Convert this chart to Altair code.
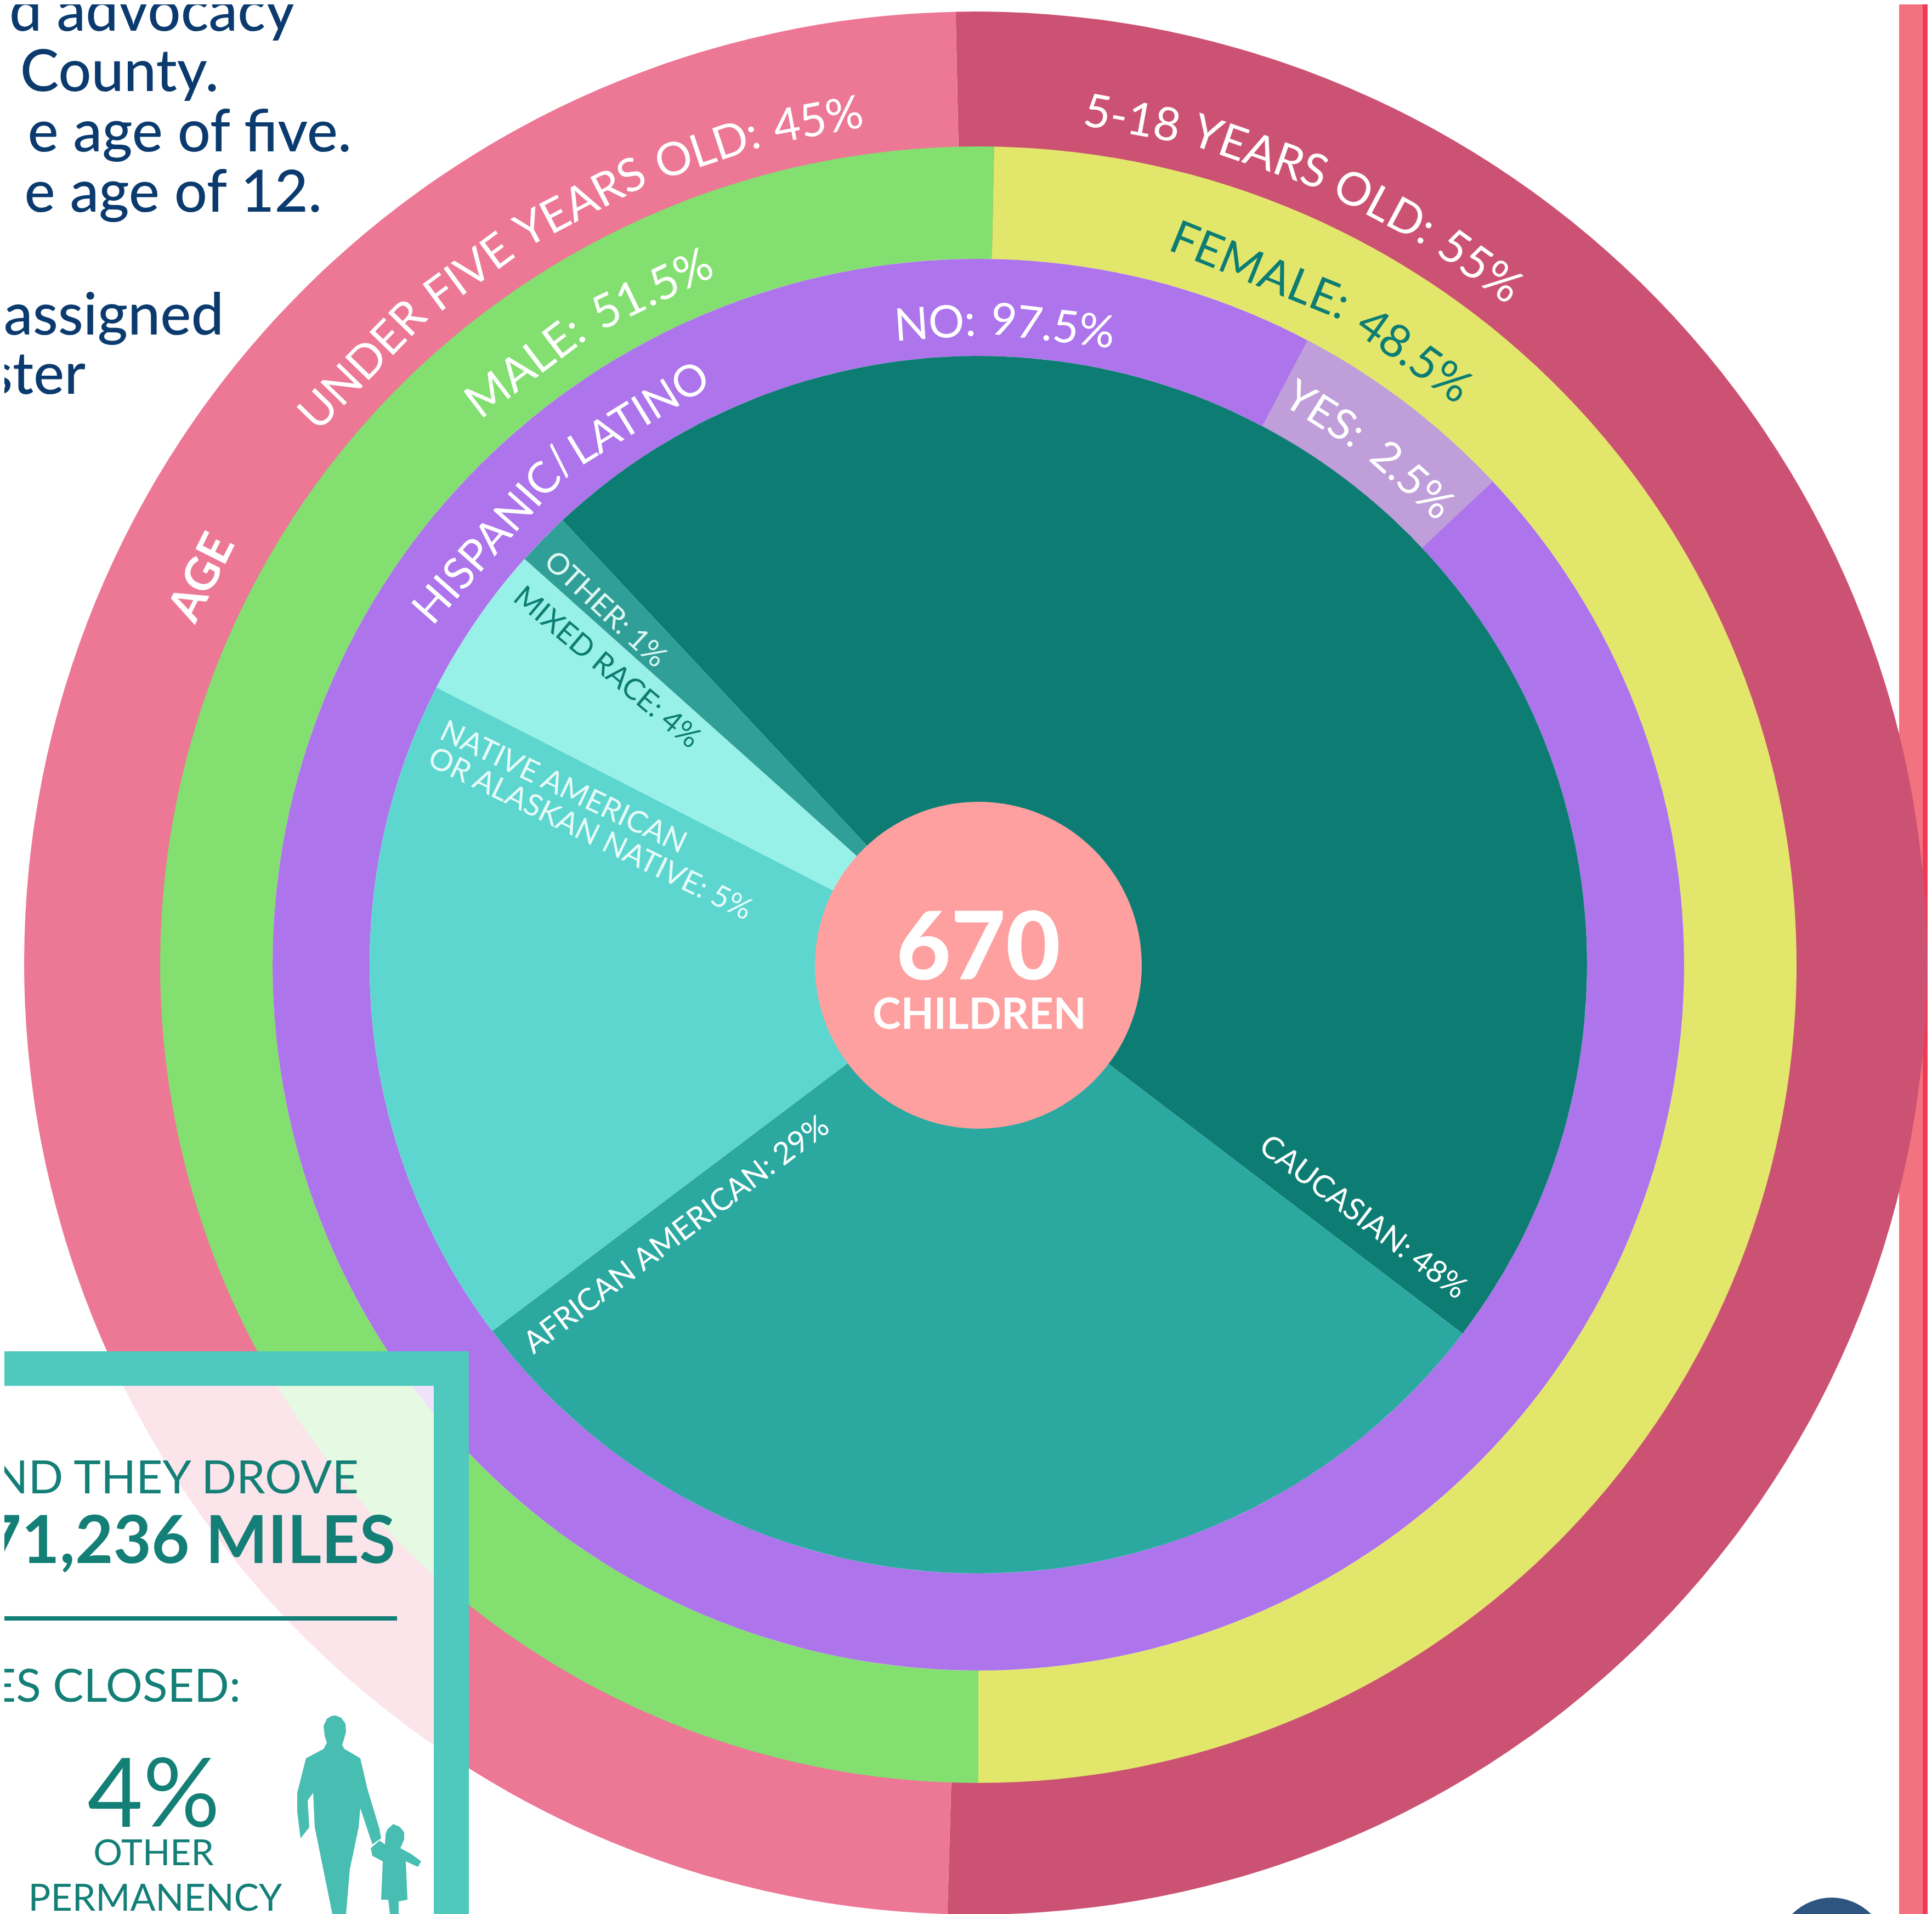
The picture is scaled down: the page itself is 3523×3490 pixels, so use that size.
import altair as alt
import pandas as pd

W, H = 3523, 3490
CW = W - 16          # the page never draws the chart wider than this
CX, CY = 1784, 1759
FONT = "Lato"

# rings: label, start deg, end deg, inner r, outer r, colour, centre
ring_names = ["dark_age", "pink_age", "yellow", "green", "purple", "yes",
              "caucasian", "african", "native", "mixed", "other"]
ring_t0 = [-1.2, 181.7, 1.1, 180.0, 0.0, 27.8, -43.1, 127.3, 233.0, 297.1, 311.8]
ring_t1 = [181.7, 358.8, 180.0, 361.1, 360.0, 46.8, 127.3, 233.0, 297.1, 311.8, 316.9]
ring_r0 = [1300, 1300, 1287, 1287, 1110, 1110, 0, 0, 0, 0, 0]
ring_r1 = [1735, 1735, 1492, 1492, 1287, 1287, 1110, 1110, 1110, 1110, 1110]
ring_cx = [1779, 1779, CX, CX, CX, CX, CX, CX, CX, CX, CX]
ring_cy = [1756, 1756, CY, CY, CY, CY, CY, CY, CY, CY, CY]
ring_col = ["#CC5273", "#EC7896", "#E2E76C", "#83DF70", "#AD74EC", "#BF9ED9",
            "#0D7D74", "#2BA9A1", "#5CD6CF", "#98F1E8", "#2F9F97"]

# curved labels: words, start deg, end deg, mid radius, size, colour, weight
curved_words = [["UNDER", "FIVE", "YEARS", "OLD:", "45%"],
                ["5-18", "YEARS", "OLD:", "55%"],
                ["MALE:", "51.5%"],
                ["FEMALE:", "48.5%"],
                ["HISPANIC/", "LATINO"],
                ["NO:", "97.5%"],
                ["YES:", "2.5%"],
                ["AGE"]]
curved_t0 = [308.9, 7.0, 317.6, 14.8, 301.8, 352.5, 28.2, 291.0]
curved_t1 = [352.4, 38.8, 339.4, 40.8, 335.5, 372.4, 46.4, 302.0]
curved_r = [1565, 1565, 1365, 1363, 1178, 1170, 1183, 1580]
curved_size = [84, 84, 84, 84, 80, 82, 78, 84]
curved_col = ["#FFFFFF", "#FFFFFF", "#FFFFFF", "#0D7D74", "#FFFFFF", "#FFFFFF", "#FFFFFF", "#FFFFFF"]
curved_w = ["normal", "normal", "normal", "normal", "normal", "normal", "normal", "bold"]

# straight labels
s_text = ["OTHER: 1%", "MIXED RACE: 4%", "NATIVE AMERICAN", "OR ALASKAN NATIVE: 5%",
          "AFRICAN AMERICAN: 29%", "CAUCASIAN: 48%"]
s_x = [1103, 1106, 1027, 1076, 1234, 2485]
s_y = [1112, 1218, 1436, 1521, 2252, 2220]
s_a = [43, 40, 25.5, 26, 323, 37]
s_size = [54, 54, 55, 55, 56, 56]
s_col = ["#DDF7F2", "#0D7D74", "#E8FBF8", "#E8FBF8", "#FFFFFF", "#FFFFFF"]

# navy copy, right aligned at x, on baseline y
n_text = ["d advocacy", "County.", "e age of five.", "e age of 12.", "assigned", "ster"]
n_x = [539, 399, 641, 587, 408, 156]
n_y = [56, 166, 276, 386, 610, 718]

# box copy
b_text = ["ND THEY DROVE", "71,236 MILES", "ES CLOSED:"]
b_x = [654, 721, 439]
b_y = [2723, 2850, 3103]
b_size = [84, 120, 84]
b_w = ["normal", "bold", "normal"]
c_text = ["4%", "OTHER", "PERMANENCY"]
c_x = [280, 280, 283]
c_y = [3331, 3401, 3484]
c_size = [175, 66, 68]

# silhouette outline, full-size pixels
man_x = [612, 622, 630, 631, 627, 624, 628, 657, 670, 692, 695, 679, 657, 654, 638, 631, 606, 574, 571, 561, 564, 548, 542, 542, 558, 590, 596, 592, 590, 596, 604]
man_y = [3128, 3132, 3143, 3158, 3172, 3182, 3189, 3206, 3262, 3335, 3352, 3363, 3297, 3332, 3408, 3490, 3490, 3332, 3269, 3283, 3332, 3352, 3304, 3269, 3206, 3189, 3178, 3165, 3147, 3134, 3129]
kid_x = [717, 729, 737, 737, 730, 749, 768, 762, 740, 743, 727, 727, 711, 708, 695, 698, 679, 676, 692, 702, 703, 706]
kid_y = [3326, 3331, 3341, 3354, 3370, 3380, 3394, 3404, 3394, 3464, 3467, 3490, 3490, 3464, 3464, 3394, 3384, 3370, 3356, 3363, 3345, 3336]

# rough relative glyph widths used to lay curved words along their arcs
CHAR_W = {"I": 0.28, ":": 0.26, ".": 0.26, "/": 0.40, "-": 0.38, "1": 0.58, "%": 0.82, "M": 0.90,
          "O": 0.80, "E": 0.56, "F": 0.55, "L": 0.50, "S": 0.54, "A": 0.68, "N": 0.75, "D": 0.77,
          "R": 0.62, "U": 0.73, "V": 0.67, "Y": 0.62, "T": 0.58, "H": 0.74, "C": 0.66, "P": 0.58, "G": 0.72}

xs = alt.Scale(domain=[8, 8 + CW], range=[0, CW], nice=False, zero=False)
ys = alt.Scale(domain=[8, H], range=[0, H - 8], nice=False, zero=False)
ts = alt.Scale(type="linear", domain=[0, 360], range=[0, 6.283185307179586], zero=False, nice=False)
rs = alt.Scale(type="linear", domain=[0, 2000], range=[0, 2000], zero=False, nice=False)
ang = alt.Scale(type="linear", domain=[0, 360], range=[0, 360], zero=False, nice=False)


def X(f="x"):
    return alt.X(f"{f}:Q", scale=xs, axis=None)


def Y(f="y"):
    return alt.Y(f"{f}:Q", scale=ys, axis=None)


def rect(x0, x1, y0, y1, col, op=1.0):
    d = pd.DataFrame({"x": [x0], "x2": [x1], "y": [y0], "y2": [y1]})
    return alt.Chart(d).mark_rect(color=col, opacity=op, clip=True, strokeWidth=0).encode(
        x=X(), x2="x2:Q", y=Y(), y2="y2:Q")


def arcs(df):
    return alt.Chart(df).mark_arc(clip=True, strokeWidth=0).encode(
        x=X(), y=Y(),
        theta=alt.Theta("t0:Q", scale=ts, stack=None),
        theta2="t1:Q",
        radius=alt.Radius("r1:Q", scale=rs),
        radius2="r0:Q",
        color=alt.Color("col:N", scale=None),
    )


ring_df = pd.DataFrame({"name": ring_names, "t0": ring_t0, "t1": ring_t1, "r0": ring_r0,
                        "r1": ring_r1, "col": ring_col, "x": ring_cx, "y": ring_cy})
hub_df = pd.DataFrame({"t0": [0], "t1": [360], "r0": [0], "r1": [298], "col": ["#FFA0A0"], "x": [CX], "y": [1760]})
dot_df = pd.DataFrame({"t0": [0], "t1": [360], "r0": [0], "r1": [101], "col": ["#2E5480"], "x": [3340], "y": [3561]})


def wlen(s):
    return sum(CHAR_W.get(c, 0.60) for c in s)


# curved labels are set word by word along their arc
rows = []
for words, t0, t1, r, size, col, w in zip(curved_words, curved_t0, curved_t1, curved_r,
                                          curved_size, curved_col, curved_w):
    gaps = [0.0 if a.endswith("/") else 0.28 for a in words[:-1]]
    lens = [wlen(a) for a in words]
    total = sum(lens) + sum(gaps)
    pos = 0.0
    for i, (a, n) in enumerate(zip(words, lens)):
        th = t0 + (t1 - t0) * (pos + n / 2) / total
        rows.append({"text": a, "t": th % 360, "a": th % 360, "r": r, "size": size, "col": col,
                     "w": w, "x": CX, "y": CY})
        pos += n + (gaps[i] if i < len(gaps) else 0)
cur_df = pd.DataFrame(rows)


def curved(weight):
    return alt.Chart(cur_df[cur_df.w == weight]).mark_text(
        font=FONT, baseline="middle", align="center", fontWeight=weight, clip=True).encode(
        x=X(), y=Y(),
        theta=alt.Theta("t:Q", scale=ts, stack=None),
        radius=alt.Radius("r:Q", scale=rs),
        angle=alt.Angle("a:Q", scale=ang),
        text="text:N",
        size=alt.Size("size:Q", scale=None),
        color=alt.Color("col:N", scale=None),
    )


str_df = pd.DataFrame({"text": s_text, "x": s_x, "y": s_y, "a": s_a, "size": s_size, "col": s_col})
straight = alt.Chart(str_df).mark_text(font=FONT, baseline="middle", align="center", clip=True).encode(
    x=X(), y=Y(), angle=alt.Angle("a:Q", scale=ang), text="text:N",
    size=alt.Size("size:Q", scale=None), color=alt.Color("col:N", scale=None))

navy_df = pd.DataFrame({"text": n_text, "x": n_x, "y": n_y})
navy = alt.Chart(navy_df).mark_text(font=FONT, fontSize=106, fontWeight=500, baseline="alphabetic",
                                    align="right", color="#0B3B6E", clip=True).encode(
    x=X(), y=Y(), text="text:N")

box_df = pd.DataFrame({"text": b_text, "x": b_x, "y": b_y, "size": b_size, "w": b_w})
box_layers = [
    alt.Chart(box_df[box_df.w == wt]).mark_text(font=FONT, fontWeight=wt, baseline="alphabetic", align="right",
                                                color="#137F76", clip=True).encode(
        x=X(), y=Y(), text="text:N", size=alt.Size("size:Q", scale=None))
    for wt in ["normal", "bold"]
]
ctr_df = pd.DataFrame({"text": c_text, "x": c_x, "y": c_y, "size": c_size})
ctr = alt.Chart(ctr_df).mark_text(font=FONT, baseline="alphabetic", align="center",
                                  color="#137F76", clip=True).encode(
    x=X(), y=Y(), text="text:N", size=alt.Size("size:Q", scale=None))

hub_text_df = pd.DataFrame({"text": ["670"], "x": [1784], "y": [1786], "size": [172]})
hub_text = alt.Chart(hub_text_df).mark_text(font=FONT, fontWeight=900, baseline="alphabetic", align="center",
                                            color="#FFFFFF").encode(
    x=X(), y=Y(), text="text:N", size=alt.Size("size:Q", scale=None))
hub_text2_df = pd.DataFrame({"text": ["CHILDREN"], "x": [1786], "y": [1876], "size": [78]})
hub_text2 = alt.Chart(hub_text2_df).mark_text(font=FONT, fontWeight="bold", baseline="alphabetic", align="center",
                                              color="#FFFFFF").encode(
    x=X(), y=Y(), text="text:N", size=alt.Size("size:Q", scale=None))

rule_df = pd.DataFrame({"x": [8], "x2": [724], "y": [2951]})
rule = alt.Chart(rule_df).mark_rule(color="#137F76", strokeWidth=8, clip=True).encode(x=X(), x2="x2:Q", y=Y())

# silhouette as one custom symbol
AX, AY, HALF = 650, 3300, 400


def sub(px, py):
    pts = [f"{(a - AX) / HALF:.4f},{(b - AY) / HALF:.4f}" for a, b in zip(px, py)]
    return "M" + "L".join(pts) + "Z"


sil_df = pd.DataFrame({"x": [AX], "y": [AY]})
sil = alt.Chart(sil_df).mark_point(filled=True, shape=sub(man_x, man_y) + sub(kid_x, kid_y),
                                   size=(2 * HALF) ** 2, color="#48BDB2", opacity=1, strokeWidth=0,
                                   clip=True).encode(x=X(), y=Y())

chart = alt.layer(
    rect(3463, 3506, 0, H, "#F2737F"),
    rect(3506, 8 + CW, 0, H, "#EF3A57"),
    arcs(ring_df),
    arcs(hub_df),
    arcs(dot_df),
    curved("normal"),
    curved("bold"),
    straight,
    hub_text,
    hub_text2,
    navy,
    rect(0, 791, 2527, H, "#FFFFFF", 0.8),
    rect(0, 855, 2464, 2527, "#4FC9BE"),
    rect(791, 855, 2527, H, "#4FC9BE"),
    *box_layers,
    rule,
    ctr,
    sil,
).properties(width=CW, height=H - 8, background="#FFFFFF", padding=0,
             autosize=alt.AutoSizeParams(type="none")
).configure_view(stroke=None)

chart.save("out.html", embed_options={"renderer": "svg", "actions": False})
